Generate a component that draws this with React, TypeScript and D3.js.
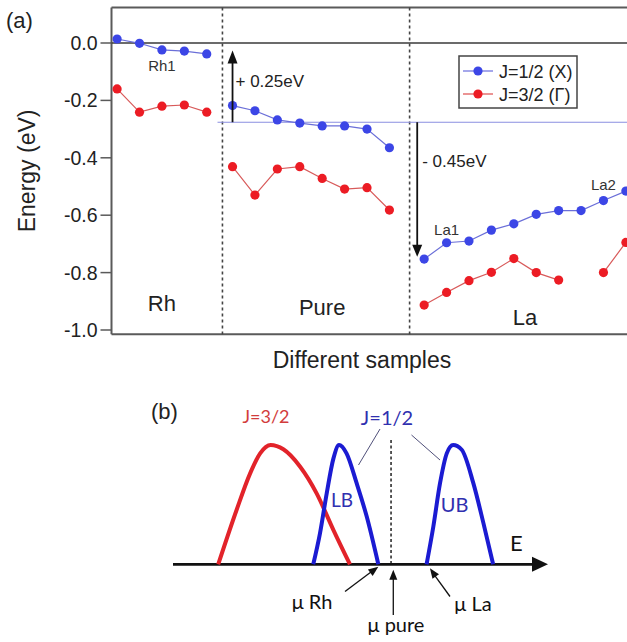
import React from "react";
import * as d3 from "d3";

const W = 627;
const H = 642;

// ---- panel (a) data ----
const yTicks = [0, -0.2, -0.4, -0.6, -0.8, -1.0];
const yTickLabels = ["0.0", "-0.2", "-0.4", "-0.6", "-0.8", "-1.0"];

const rhX = [0.25, 1.25, 2.25, 3.25, 4.25];
const rhJ12 = [0.014, -0.001, -0.024, -0.028, -0.038];
const rhJ32 = [-0.16, -0.241, -0.22, -0.216, -0.241];

const pureX = [5.4, 6.4, 7.4, 8.4, 9.4, 10.4, 11.4, 12.4];
const pureJ12 = [-0.218, -0.236, -0.268, -0.279, -0.289, -0.289, -0.3, -0.365];
const pureJ32 = [-0.431, -0.53, -0.439, -0.431, -0.472, -0.509, -0.504, -0.582];

const laX = [13.95, 14.95, 15.95, 16.95, 17.95, 18.95, 19.95, 20.95, 21.95, 22.95];
const laJ12 = [-0.753, -0.696, -0.69, -0.652, -0.63, -0.597, -0.584, -0.584, -0.549, -0.516];
const laJ32 = [-0.913, -0.869, -0.828, -0.799, -0.751, -0.8, -0.826, null, -0.8, -0.695];

const dividers = [4.95, 13.3];
const groupLabels = ["Rh", "Pure", "La"];
const groupLabelX = [2.25, 9.4, 18.45];
const groupLabelY = [-0.935, -0.948, -0.983];

const pointLabels = ["Rh1", "La1", "La2"];
const pointLabelX = [2.25, 14.95, 21.95];
const pointLabelY = [-0.098, -0.669, -0.511];

const refLevel = -0.276;
const shiftUp = { x: 5.4, from: -0.276, to: -0.026, label: "+ 0.25eV" };
const shiftDown = { x: 13.64, from: -0.276, to: -0.745, label: "- 0.45eV" };

// ---- panel (b) data ----
const redE = [12.1, 17.0, 20.6, 23.3, 26.1, 29.5, 34.0, 38.4, 42.9, 47.3];
const redD = [0, 0.455, 0.76, 0.93, 1, 0.964, 0.818, 0.595, 0.287, 0];
const lbE = [37.5, 39.3, 41.1, 42.9, 44.4, 46.4, 49.1, 51.8, 54.9];
const lbD = [0, 0.26, 0.595, 0.888, 1, 0.93, 0.68, 0.4, 0];
const ubE = [67.8, 69.6, 71.4, 73.2, 74.9, 77.2, 80.3, 83.0, 85.6];
const ubD = [0, 0.315, 0.68, 0.93, 1, 0.96, 0.68, 0.345, 0];

const muRh = 54.9;
const muPure = 58.9;
const muPureLine = 58.3;
const muLa = 68.7;

const BLUE = "#3c46e6";
const BLUE_LINE = "#6b6fd8";
const RED = "#ec1c24";
const RED_LINE = "#d85a5a";
const AX = "#5a5a5a";
const SANS = "'Liberation Sans', Arial, sans-serif";
const CAL = "Lato, 'Open Sans', sans-serif";

function head(x1: number, y1: number, x2: number, y2: number, len: number, wid: number) {
  const a = Math.atan2(y2 - y1, x2 - x1);
  const bx = x2 - len * Math.cos(a);
  const by = y2 - len * Math.sin(a);
  const px = (-Math.sin(a) * wid) / 2;
  const py = (Math.cos(a) * wid) / 2;
  return `${x2},${y2} ${bx + px},${by + py} ${bx - px},${by - py}`;
}

function Series({ xs, ys, x, y, dot, line }: any) {
  const pts = xs.map((v: number, i: number) => [v, ys[i]]);
  const gen = d3
    .line<any>()
    .defined((d) => d[1] !== null)
    .x((d) => x(d[0]))
    .y((d) => y(d[1]));
  return (
    <g>
      <path d={gen(pts) || ""} fill="none" stroke={line} strokeWidth={1.2} />
      {pts
        .filter((d: any) => d[1] !== null)
        .map((d: any, i: number) => (
          <circle key={i} cx={x(d[0])} cy={y(d[1])} r={4.6} fill={dot} />
        ))}
    </g>
  );
}

export default function App() {
  // panel (a) scales
  const x = d3.scaleLinear().domain([0, 23]).range([111.5, 627]);
  const y = d3.scaleLinear().domain([0, -1]).range([43, 330]);
  const top = y(0.1237);
  const bottom = y(-1.015);
  const left = x(0);

  // panel (b) scales
  const e = d3.scaleLinear().domain([0, 100]).range([173, 547]);
  const dens = d3.scaleLinear().domain([0, 1]).range([564.3, 445]);
  const band = d3
    .line<number>()
    .x((d) => d)
    .y((d) => d)
    .curve(d3.curveMonotoneX);
  const bandPath = (es: number[], ds: number[]) =>
    d3
      .line<[number, number]>()
      .x((d) => e(d[0]))
      .y((d) => dens(d[1]))
      .curve(d3.curveMonotoneX)(es.map((v, i) => [v, ds[i]] as [number, number])) || "";
  void band;

  const base = dens(0);

  return (
    <div style={{ position: "absolute", left: 0, top: 0 }}>
      <svg width={W} height={H} style={{ display: "block" }}>
        <rect width={W} height={H} fill="#fff" />
        {/* ---------- panel (a) ---------- */}
        <text x={6} y={28} fontFamily={SANS} fontSize={22} fill="#222">
          (a)
        </text>

        {/* frame */}
        <line x1={left} x2={W} y1={top} y2={top} stroke={AX} strokeWidth={2} />
        <line x1={left} x2={W} y1={bottom} y2={bottom} stroke={AX} strokeWidth={2} />
        <line x1={left} x2={left} y1={top} y2={bottom} stroke={AX} strokeWidth={2} />
        <line x1={left} x2={W} y1={y(0)} y2={y(0)} stroke="#3a3a3a" strokeWidth={1.6} />

        {/* y ticks */}
        {yTicks.map((t, i) => (
          <g key={i}>
            <line x1={left - 11} x2={left} y1={y(t)} y2={y(t)} stroke={AX} strokeWidth={1.5} />
            <text
              x={left - 14}
              y={y(t)}
              dy="0.36em"
              textAnchor="end"
              fontFamily={SANS}
              fontSize={19.5}
              fill="#222"
            >
              {yTickLabels[i]}
            </text>
          </g>
        ))}

        <text
          transform={`translate(35,${(top + bottom) / 2}) rotate(-90)`}
          textAnchor="middle"
          fontFamily={SANS}
          fontSize={23}
          fill="#222"
        >
          Energy (eV)
        </text>
        <text x={362} y={368} textAnchor="middle" fontFamily={SANS} fontSize={23} fill="#222">
          Different samples
        </text>

        {/* dividers */}
        {dividers.map((d, i) => (
          <line
            key={i}
            x1={x(d)}
            x2={x(d)}
            y1={top}
            y2={bottom}
            stroke="#444"
            strokeWidth={1.6}
            strokeDasharray="3,3"
          />
        ))}

        {/* reference level */}
        <line x1={x(4.73)} x2={W} y1={y(refLevel)} y2={y(refLevel)} stroke="#8a8ee0" strokeWidth={1.1} />

        {/* series */}
        <Series xs={rhX} ys={rhJ12} x={x} y={y} dot={BLUE} line={BLUE_LINE} />
        <Series xs={rhX} ys={rhJ32} x={x} y={y} dot={RED} line={RED_LINE} />
        <Series xs={pureX} ys={pureJ12} x={x} y={y} dot={BLUE} line={BLUE_LINE} />
        <Series xs={pureX} ys={pureJ32} x={x} y={y} dot={RED} line={RED_LINE} />
        <Series xs={laX} ys={laJ12} x={x} y={y} dot={BLUE} line={BLUE_LINE} />
        <Series xs={laX} ys={laJ32} x={x} y={y} dot={RED} line={RED_LINE} />

        {/* shift arrows */}
        {[shiftUp, shiftDown].map((s, i) => {
          const sx = x(s.x);
          const y1 = y(s.from);
          const y2 = y(s.to);
          const len = i === 0 ? 13 : 12;
          const dir = y2 < y1 ? 1 : -1;
          return (
            <g key={i}>
              <line x1={sx} x2={sx} y1={y1} y2={y2 + dir * len * 0.8} stroke="#111" strokeWidth={1.8} />
              <polygon points={head(sx, y1, sx, y2, len, 10)} fill="#111" />
            </g>
          );
        })}
        <text x={x(shiftUp.x) + 3} y={87} fontFamily={SANS} fontSize={17} fill="#222">
          {shiftUp.label}
        </text>
        <text x={x(shiftDown.x) + 5} y={166.5} fontFamily={SANS} fontSize={17} fill="#222">
          {shiftDown.label}
        </text>

        {/* point labels */}
        {pointLabels.map((l, i) => (
          <text
            key={l}
            x={x(pointLabelX[i])}
            y={y(pointLabelY[i])}
            textAnchor="middle"
            fontFamily={SANS}
            fontSize={15}
            fill="#333"
          >
            {l}
          </text>
        ))}

        {/* group labels */}
        {groupLabels.map((l, i) => (
          <text
            key={l}
            x={x(groupLabelX[i])}
            y={y(groupLabelY[i])}
            textAnchor="middle"
            fontFamily={SANS}
            fontSize={22}
            fill="#222"
          >
            {l}
          </text>
        ))}

        {/* legend */}
        <rect x={459} y={56} width={118} height={52} fill="#fff" stroke="#444" strokeWidth={1.5} />
        <line x1={463} x2={493} y1={71} y2={71} stroke="#7478e0" strokeWidth={1.3} />
        <circle cx={478} cy={71} r={4.6} fill={BLUE} />
        <text x={499} y={77.5} fontFamily={SANS} fontSize={18} fill="#222">
          J=1/2 (X)
        </text>
        <line x1={463} x2={493} y1={94} y2={94} stroke="#e05a5a" strokeWidth={1.3} />
        <circle cx={478} cy={94} r={4.6} fill={RED} />
        <text x={499} y={100.5} fontFamily={SANS} fontSize={18} fill="#222">
          J=3/2 (Γ)
        </text>

        {/* ---------- panel (b) ---------- */}
        <text x={151} y={419} fontFamily={SANS} fontSize={22} fill="#222">
          (b)
        </text>

        {/* chemical potential dashed line */}
        <line
          x1={e(muPureLine)}
          x2={e(muPureLine)}
          y1={440}
          y2={base}
          stroke="#111"
          strokeWidth={1.4}
          strokeDasharray="3,2.5"
        />

        {/* energy axis */}
        <line x1={173} x2={534} y1={base} y2={base} stroke="#111" strokeWidth={2.8} />
        <polygon points={head(173, base, 548, base, 16, 15)} fill="#111" />
        <text x={510} y={551} fontFamily={CAL} fontSize={22} fill="#111">
          E
        </text>

        {/* bands */}
        <path d={bandPath(redE, redD)} fill="none" stroke="#e2232a" strokeWidth={4} />
        <path d={bandPath(lbE, lbD)} fill="none" stroke="#1b1bd2" strokeWidth={4} />
        <path d={bandPath(ubE, ubD)} fill="none" stroke="#1b1bd2" strokeWidth={4} />

        <text x={266} y={423} textAnchor="middle" fontFamily={CAL} fontSize={18} fill="#d23c3c">
          J=3/2
        </text>
        <text x={387} y={425} textAnchor="middle" fontFamily={CAL} fontSize={20} fill="#3030b0">
          J=1/2
        </text>
        <line x1={380} y1={429} x2={358.5} y2={465} stroke="#50507a" strokeWidth={1} />
        <line x1={411.5} y1={435} x2={440} y2={460} stroke="#50507a" strokeWidth={1} />
        <text x={342} y={507} textAnchor="middle" fontFamily={CAL} fontSize={19} fill="#3030b0">
          LB
        </text>
        <text x={454.5} y={511.5} textAnchor="middle" fontFamily={CAL} fontSize={20} fill="#3030b0">
          UB
        </text>

        {/* mu arrows */}
        <line x1={345} y1={591.5} x2={e(muRh) - 5} y2={base + 6} stroke="#111" strokeWidth={1.3} />
        <polygon points={head(345, 591.5, e(muRh), base + 2.5, 10, 8)} fill="#111" />
        <line x1={e(muPure)} y1={615} x2={e(muPure)} y2={base + 12} stroke="#111" strokeWidth={1.3} />
        <polygon points={head(e(muPure), 615, e(muPure), base + 5.5, 10, 8)} fill="#111" />
        <line x1={450} y1={596.5} x2={e(muLa) + 4} y2={base + 10} stroke="#111" strokeWidth={1.3} />
        <polygon points={head(450, 596.5, e(muLa), base + 4, 10, 8)} fill="#111" />

        <text x={312} y={609} textAnchor="middle" fontFamily={CAL} fontSize={20} fill="#111">
          μ Rh
        </text>
        <text x={396} y={632} textAnchor="middle" fontFamily={CAL} fontSize={20} fill="#111">
          μ pure
        </text>
        <text x={473} y={611} textAnchor="middle" fontFamily={CAL} fontSize={20} fill="#111">
          μ La
        </text>
      </svg>
    </div>
  );
}
